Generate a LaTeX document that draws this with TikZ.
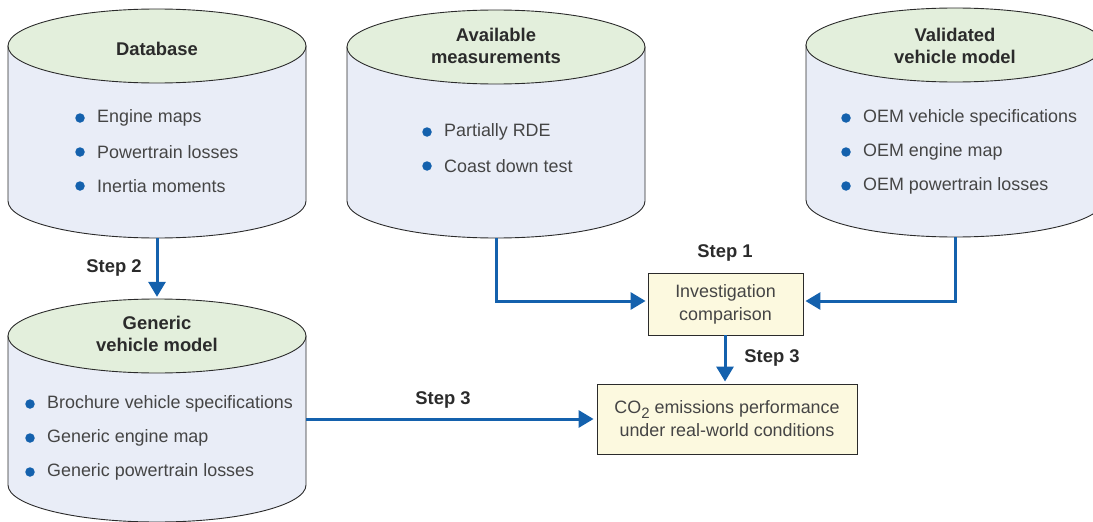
\documentclass[tikz,border=0pt]{standalone}
\usepackage{fontspec}
\setmainfont{Liberation Sans}
\usetikzlibrary{arrows.meta,positioning,calc}
\definecolor{bodyfill}{HTML}{E9EDF7}
\definecolor{topfill}{HTML}{E3EFDC}
\definecolor{boxfill}{HTML}{FCF9DF}
\definecolor{linecol}{HTML}{2B2B2B}
\definecolor{txt}{HTML}{454545}
\definecolor{blu}{HTML}{1461AD}
\tikzset{
  cylbody/.style={fill=bodyfill,draw=linecol,line width=0.9pt},
  cyltop/.style={fill=topfill,draw=linecol,line width=0.9pt},
  title/.style={font=\fontsize{18.4}{22.5}\selectfont\bfseries,text=linecol,align=center},
  item/.style={font=\fontsize{17.9}{20}\selectfont,text=txt,anchor=west,inner sep=0pt},
  dot/.style={circle,fill=blu,inner sep=0pt,minimum size=9.5pt},
  stepbox/.style={draw=linecol,line width=0.9pt,fill=boxfill,font=\fontsize{17.9}{23}\selectfont,text=txt,align=center},
  steplbl/.style={font=\fontsize{18.4}{20}\selectfont\bfseries,text=linecol},
  arr/.style={draw=blu,line width=3pt,-{Triangle[length=15pt,width=17pt]}},
  anchorbox/.style={draw=none,inner sep=0pt}
}
% name, cx, y of top centre, y of bottom centre
\newcommand{\mycyl}[4]{%
  \draw[cylbody] (#2-149,-#3) -- (#2-149,-#4)
     arc[start angle=180,end angle=360,x radius=149pt,y radius=37pt]
     -- (#2+149,-#3) -- cycle;
  \draw[cyltop] (#2,-#3) ellipse[x radius=149pt,y radius=37pt];
  \node[anchorbox,minimum width=298pt,minimum height={#4-#3+74pt}] (#1) at (#2,{-(#3+#4)/2}) {};
}
\begin{document}
\begin{tikzpicture}[x=1pt,y=1pt]
\useasboundingbox (0,0) rectangle (1093,-522);
\begin{scope}
\clip (0,0) rectangle (1093,-522);
% cylinders
\mycyl{db}{157}{46}{201}
\mycyl{am}{496}{47}{201}
\mycyl{vvm}{955}{45}{200}
\mycyl{gvm}{157}{336}{485}

% titles
\node[title] (tdb) at (157,-49) {Database};
\node[title] (tam) at (496,-46) {Available\\measurements};
\node[title] (tvvm) at (955,-46) {Validated\\vehicle model};
\node[title] (tgvm) at (157,-334) {Generic\\vehicle model};

% database items
\node[dot] (d1) at (80,-118) {}; \node[item] (i1) at (97,-118) {Engine maps};
\node[dot] (d2) at (80,-152) {}; \node[item] (i2) at (97,-152) {Powertrain losses};
\node[dot] (d3) at (80,-186) {}; \node[item] (i3) at (97,-186) {Inertia moments};
% available items
\node[dot] (d4) at (427,-132) {}; \node[item] (i4) at (444,-132) {Partially RDE};
\node[dot] (d5) at (427,-166) {}; \node[item] (i5) at (444,-166) {Coast down test};
% validated items
\node[dot] (d6) at (846,-118) {}; \node[item] (i6) at (863,-118) {OEM vehicle specifications};
\node[dot] (d7) at (846,-152) {}; \node[item] (i7) at (863,-152) {OEM engine map};
\node[dot] (d8) at (846,-186) {}; \node[item] (i8) at (863,-186) {OEM powertrain losses};
% generic items
\node[dot] (d9) at (30,-404) {}; \node[item] (i9) at (47,-404) {Brochure vehicle specifications};
\node[dot] (d10) at (30,-438) {}; \node[item] (i10) at (47,-438) {Generic engine map};
\node[dot] (d11) at (30,-472) {}; \node[item] (i11) at (47,-472) {Generic powertrain losses};
\end{scope}

% boxes
\node[stepbox,minimum width=155pt,minimum height=62pt] (inv) at (725.5,-304) {Investigation\\comparison};
\node[stepbox,minimum width=260pt,minimum height=70pt] (co2) at (727,-419) {CO\raisebox{-4.5pt}{\fontsize{15}{15}\selectfont 2} emissions performance\\under real-world conditions};

% connectors
\draw[arr] (db.south) -- ($(db.south |- gvm.north)+(0,2)$);
\draw[arr] (am.south) |- ($(inv.west)+(-2,3)$);
\draw[arr] (vvm.south) |- ($(inv.east)+(2,3)$);
\draw[arr] (inv.south -| 725,0) -- ($(co2.north -| 725,0)+(0,2)$);
\draw[arr] (gvm.east |- co2.west) -- ($(co2.west)+(-3,0)$);

% step labels
\node[steplbl] (s1) at (725,-253) {Step 1};
\node[steplbl] (s2) at (114,-268) {Step 2};
\node[steplbl] (s3a) at (443,-400) {Step 3};
\node[steplbl] (s3b) at (772,-358) {Step 3};
\end{tikzpicture}
\end{document}
